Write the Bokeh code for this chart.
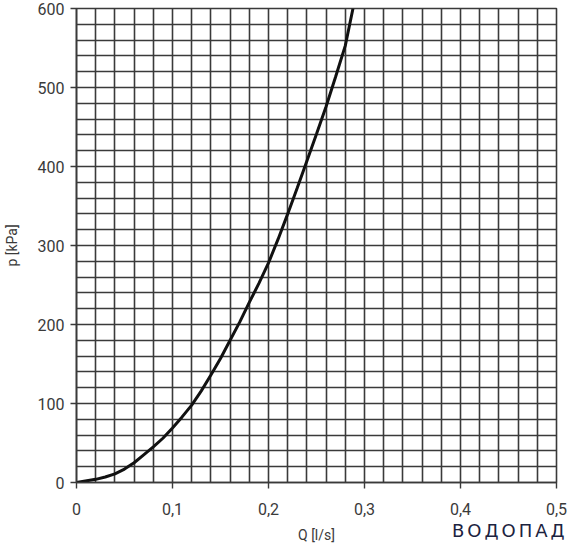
import numpy as np
from bokeh.plotting import figure
from bokeh.models import FixedTicker, CustomJSTickFormatter, Range1d, Div
from bokeh.layouts import column
from bokeh.embed import file_html
from bokeh.resources import INLINE

# Flow rate Q [l/s] and pressure loss p [kPa]
Q = [0.0, 0.02, 0.03, 0.04, 0.05, 0.06, 0.07, 0.08, 0.09, 0.10, 0.11, 0.12, 0.13, 0.14,
     0.15, 0.16, 0.17, 0.18, 0.19, 0.20, 0.21, 0.22, 0.23, 0.24, 0.25, 0.26, 0.27, 0.28, 0.288]
P = [0, 4, 7, 11, 17, 25, 35, 45, 56, 69, 83, 98, 116, 136,
     157, 180, 203, 228, 252, 278, 308, 340, 373, 407, 441, 476, 514, 553, 600]

x_ticks = [0, 0.1, 0.2, 0.3, 0.4, 0.5]
y_ticks = [0, 100, 200, 300, 400, 500, 600]
x_grid_step = 0.02
y_grid_step = 20

GRID = "#3a3a3a"
TEXT = "#3a3a3a"
FONT = "Roboto"

p = figure(width=568, height=548, output_backend="svg", toolbar_location=None,
           x_range=Range1d(0, 0.5), y_range=Range1d(0, 600),
           min_border_left=75, min_border_right=12, min_border_top=8, min_border_bottom=66)

p.xgrid.ticker = FixedTicker(ticks=[round(v, 2) for v in np.arange(0, 0.5 + 1e-9, x_grid_step)])
p.ygrid.ticker = FixedTicker(ticks=[float(v) for v in np.arange(0, 600 + 1e-9, y_grid_step)])
for g in (p.xgrid, p.ygrid):
    g.grid_line_color = GRID
    g.grid_line_width = 1.6
    g.grid_line_alpha = 1.0

p.outline_line_color = GRID
p.outline_line_width = 1.6

p.xaxis.ticker = FixedTicker(ticks=x_ticks)
p.yaxis.ticker = FixedTicker(ticks=y_ticks)
p.xaxis.formatter = CustomJSTickFormatter(code="return tick == 0 ? '0' : tick.toFixed(1).replace('.', ',');")

for ax in (p.xaxis, p.yaxis):
    ax.axis_line_color = GRID
    ax.axis_line_width = 1.6
    ax.major_tick_line_color = GRID
    ax.major_tick_line_width = 1.4
    ax.major_tick_out = 6
    ax.major_tick_in = 0
    ax.minor_tick_line_color = None
    ax.major_label_text_font = FONT
    ax.major_label_text_font_size = "16px"
    ax.major_label_text_color = TEXT
    ax.axis_label_text_font = FONT
    ax.axis_label_text_font_style = "normal"
    ax.axis_label_text_color = TEXT
    ax.axis_label_text_font_size = "14px"

p.xaxis.axis_label = "Q [l/s]"
p.yaxis.axis_label = "p [kPa]"
p.xaxis.major_label_standoff = 14
p.yaxis.major_label_standoff = 6
p.xaxis.axis_label_standoff = 9
p.yaxis.axis_label_standoff = 15

p.line(Q, P, line_color="#111111", line_width=3)

# logo below the x axis, at the right (overlapping the figure's bottom border)
logo = Div(text="ВОДОПАД", width=118, height=22, margin=(-28, 0, 0, 452),
           styles={"font-family": "DejaVu Sans", "font-size": "18px",
                   "letter-spacing": "3px", "color": "#1c2340", "line-height": "22px"})

layout = column(p, logo, spacing=0)

open("out.html", "w").write(file_html(layout, INLINE))
